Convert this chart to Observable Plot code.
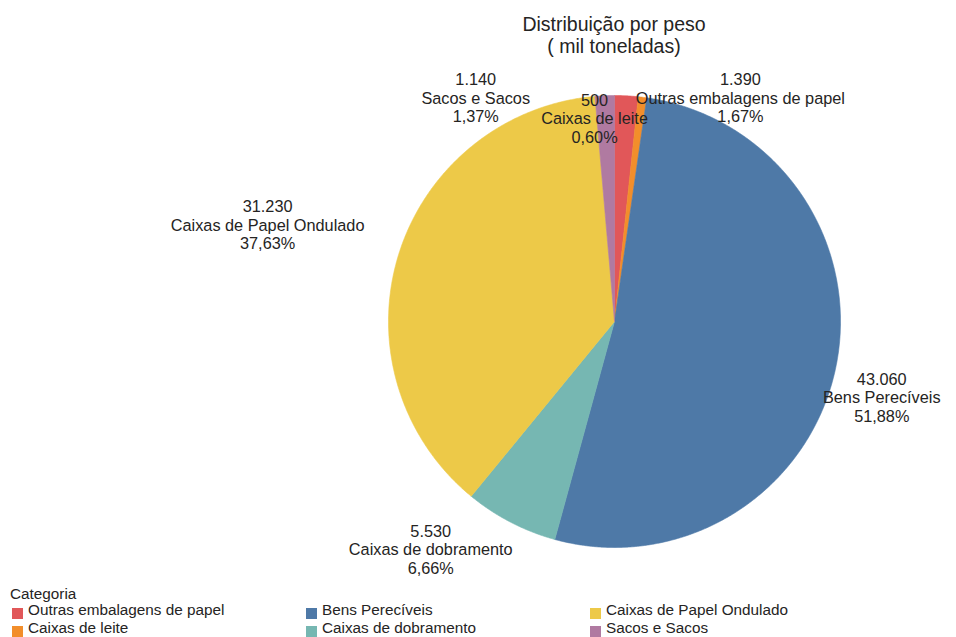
<!DOCTYPE html>
<html>
<head>
<meta charset="utf-8">
<script src="https://cdn.jsdelivr.net/npm/d3@7"></script>
<script src="https://cdn.jsdelivr.net/npm/@observablehq/plot@0.6"></script>
<style>
  body { margin: 0; font-family: "Liberation Sans", Arial, sans-serif; color: #252423; background: #fff; }
  #wrap { position: relative; width: 956px; height: 637px; }
  #title { position: absolute; left: 272px; width: 684px; top: 13px; text-align: center; font-size: 19.5px; line-height: 22px; }
  #chart { position: absolute; left: 0; top: 57px; }
  #legend { position: absolute; left: 0; top: 585px; width: 956px; font-size: 15.3px; line-height: 18px; }
  .lt { position: absolute; white-space: nowrap; }
  .sw { position: absolute; width: 11px; height: 11px; }
</style>
</head>
<body>
<div id="wrap">
  <div id="title">Distribuição por peso<br>( mil toneladas)</div>
  <div id="chart"></div>
  <div id="legend"></div>
</div>
<script>
const categories = ["Outras embalagens de papel", "Caixas de leite", "Bens Perecíveis", "Caixas de dobramento", "Caixas de Papel Ondulado", "Sacos e Sacos"];
const values = [1390, 500, 43060, 5530, 31230, 1140];
const percents = ["1,67%", "0,60%", "51,88%", "6,66%", "37,63%", "1,37%"];
const colors = ["#E15759", "#F28E2B", "#4E79A7", "#76B7B2", "#EDC948", "#B07AA1"];
const legendTitle = "Categoria";

// label nudges in pixels (layout only)
const labelOffsets = {
  "Outras embalagens de papel": [114, 2],
  "Caixas de leite": [-48, 21],
  "Bens Perecíveis": [46, 30],
  "Caixas de dobramento": [-80, 27],
  "Caixas de Papel Ondulado": [-131, -30],
  "Sacos e Sacos": [-129, 2]
};

const locale = d3.formatLocale({decimal: ",", thousands: ".", grouping: [3], currency: ["", ""]});
const fmt = locale.format(",d");

const table = categories.map((c, i) => ({cat: c, value: values[i], pct: percents[i]}));
const arcs = d3.pie().sort(null).value(d => d.value)(table);

const pts = [];
arcs.forEach(a => {
  pts.push({cat: a.data.cat, x: 0, y: 0});
  const n = Math.max(2, Math.ceil((a.endAngle - a.startAngle) / 0.005));
  for (let k = 0; k <= n; k++) {
    const t = a.startAngle + (a.endAngle - a.startAngle) * k / n;
    pts.push({cat: a.data.cat, x: Math.sin(t), y: Math.cos(t)});
  }
  pts.push({cat: a.data.cat, x: 0, y: 0});
});

const labelMarks = arcs.map(a => {
  const mid = (a.startAngle + a.endAngle) / 2;
  const off = labelOffsets[a.data.cat];
  return Plot.text([a], {
    x: () => Math.sin(mid),
    y: () => Math.cos(mid),
    text: d => `${fmt(d.data.value)}\n${d.data.cat}\n${d.data.pct}`,
    dx: off[0], dy: off[1],
    fontSize: 16.3, lineHeight: 1.13,
    textAnchor: "middle", lineAnchor: "middle",
    fill: "#252423"
  });
});

const chart = Plot.plot({
  width: 956, height: 525,
  marginLeft: 388, marginRight: 116, marginTop: 38, marginBottom: 35,
  x: {domain: [-1, 1], axis: null},
  y: {domain: [-1, 1], axis: null},
  color: {domain: categories, range: colors},
  style: {fontFamily: "'Liberation Sans', Arial, sans-serif", background: "transparent", overflow: "visible"},
  marks: [
    Plot.line(pts, {x: "x", y: "y", z: "cat", fill: "cat", stroke: "cat", strokeWidth: 0.6, curve: "linear"}),
    ...labelMarks
  ]
});
document.getElementById("chart").appendChild(chart);

// legend (column-major, 2 rows)
const lg = document.getElementById("legend");
const t = document.createElement("div");
t.className = "lt"; t.style.left = "10px"; t.style.top = "0px"; t.textContent = legendTitle;
lg.appendChild(t);
const colX = [12, 306, 590];
categories.forEach((c, i) => {
  const col = Math.floor(i / 2), row = i % 2;
  const sw = document.createElement("div");
  sw.className = "sw"; sw.style.background = colors[i];
  sw.style.left = colX[col] + "px"; sw.style.top = (19 + row * 18 + 4) + "px";
  lg.appendChild(sw);
  const tx = document.createElement("div");
  tx.className = "lt"; tx.textContent = c;
  tx.style.left = (colX[col] + 16) + "px"; tx.style.top = (16 + row * 18) + "px";
  lg.appendChild(tx);
});
</script>
</body>
</html>
